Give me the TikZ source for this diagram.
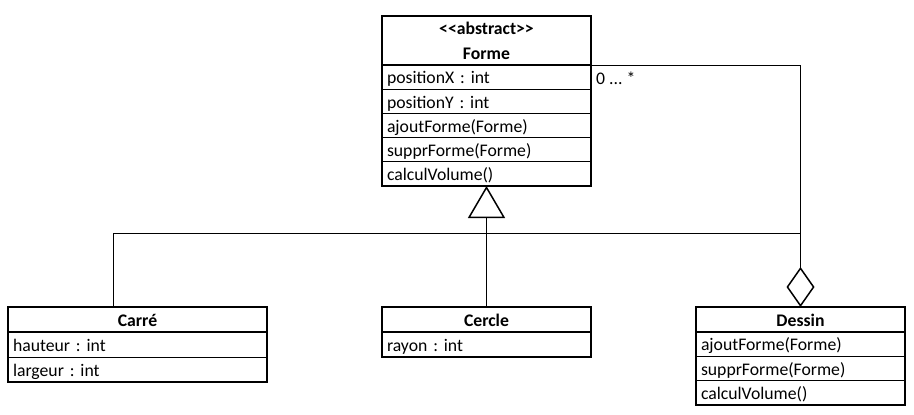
\documentclass[tikz,border=0pt]{standalone}
\usepackage{fontspec}
\newfontfamily\uml{Carlito}
\frenchspacing
\usetikzlibrary{arrows.meta}
\tikzset{
  cell/.style={rectangle, draw, line width=0.9pt, anchor=north west, inner xsep=5pt, inner ysep=0pt, outer sep=0pt,
    font=\uml\frenchspacing\fontsize{17.7}{20}\selectfont, align=left, text height=15pt, text depth=1.5pt, minimum height=24.2pt},
  hdr/.style={cell, align=center, font=\uml\frenchspacing\bfseries\fontsize{17.7}{20}\selectfont, minimum height=25pt},
  border/.style={draw, line width=2pt},
  conn/.style={draw, line width=1pt},
  wA/.style={text width=199pt},
  wB/.style={text width=249pt},
}
\begin{document}
\begin{tikzpicture}[x=1pt,y=-1pt]
\useasboundingbox (0,0) rectangle (914,415);
% Forme
\node[hdr, wA, minimum height=49pt, text height=, text depth=, font=\uml\bfseries\fontsize{17.7}{25}\selectfont] (f0) at (382,16) {<{}<abstract>{}>\\Forme};
\node[cell, wA] (f1) at (f0.south west) {positionX : int};
\node[cell, wA] (f2) at (f1.south west) {positionY : int};
\node[cell, wA] (f3) at (f2.south west) {ajoutForme(Forme)};
\node[cell, wA] (f4) at (f3.south west) {supprForme(Forme)};
\node[cell, wA] (f5) at (f4.south west) {calculVolume()};
% Carre
\node[hdr, wB] (ch) at (8,307) {Carré};
\node[cell, wB, minimum height=25pt] (c1) at (ch.south west) {hauteur : int};
\node[cell, wB, minimum height=25pt] (c2) at (c1.south west) {largeur : int};
% Cercle
\node[hdr, wA] (eh) at (382,307) {Cercle};
\node[cell, wA, minimum height=25pt] (e1) at (eh.south west) {rayon : int};
% Dessin
\node[hdr, wA] (dh) at (696,307) {Dessin};
\node[cell, wA] (d1) at (dh.south west) {ajoutForme(Forme)};
\node[cell, wA] (d2) at (d1.south west) {supprForme(Forme)};
\node[cell, wA] (d3) at (d2.south west) {calculVolume()};
% borders
\draw[border] (f0.north west) rectangle (f5.south east);
\draw[border] (f0.south west) -- (f0.south east);
\draw[border] (ch.north west) rectangle (c2.south east);
\draw[border] (ch.south west) -- (ch.south east);
\draw[border] (eh.north west) rectangle (e1.south east);
\draw[border] (eh.south west) -- (eh.south east);
\draw[border] (dh.north west) rectangle (d3.south east);
\draw[border] (dh.south west) -- (dh.south east);
% multiplicity
\node[anchor=base west, inner sep=0pt, font=\uml\fontsize{17.7}{20}\selectfont] (mult) at (596,84) {0 ... *};
% connectors
\coordinate (dj) at (dh.north |- 0,233);
\draw[conn, -{Triangle[open, length=32pt, width=37pt, line width=1.5pt]}] (eh.north) -- (f5.south);
\draw[conn] ([xshift=105pt]ch.north west) |- (dj);
\draw[conn, {Diamond[open, length=40pt, width=28pt, line width=1.5pt]}-] (dh.north) |- (f1.north east);
\end{tikzpicture}
\end{document}
